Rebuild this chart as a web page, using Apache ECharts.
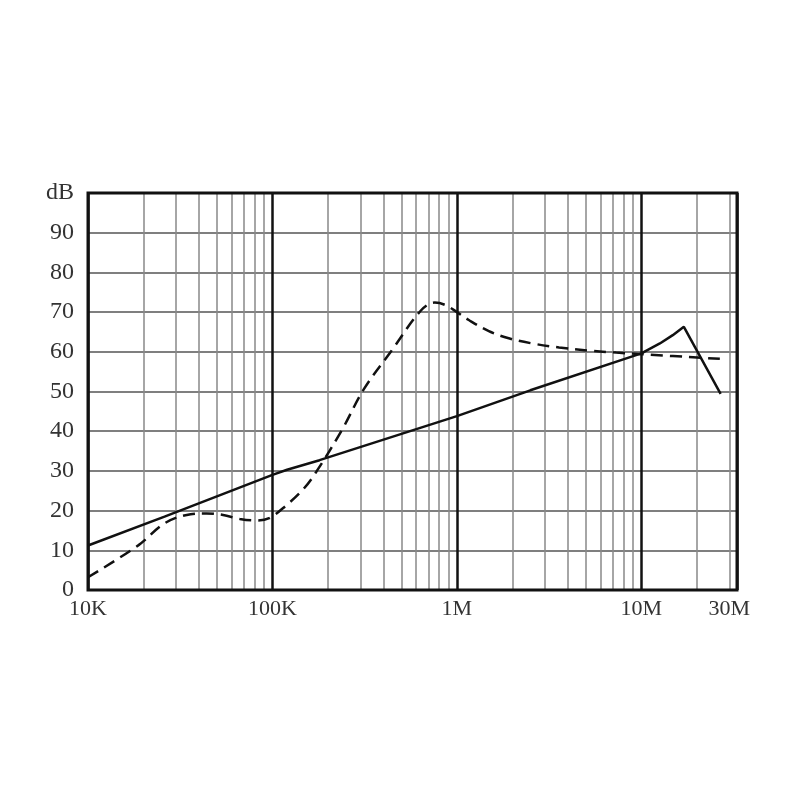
<!DOCTYPE html>
<html>
<head>
<meta charset="utf-8">
<script src="https://cdn.jsdelivr.net/npm/echarts@6/dist/echarts.min.js"></script>
<style>html,body{margin:0;padding:0;background:#fff}#c{width:800px;height:800px}</style>
</head>
<body>
<div id="c"></div>
<script>
// ---- data ----
const decadeTicks = [1e4, 1e5, 1e6, 1e7];
const decadeLabels = ['10K', '100K', '1M', '10M'];
const minorMultipliers = [2, 3, 4, 5, 6, 7, 8, 9];
const extraGridFreqs = [2e7, 3e7];
const extraLabelFreq = 3e7;
const extraLabelText = '30M';
const yTopLabel = 'dB';

const solidFreq = [1e4, 2.6e4, 1e5, 1.2e5, 1.8e5, 1e6, 2.5e6, 1e7, 1.26e7, 1.48e7, 1.7e7, 2.69e7];
const solidDb   = [11.2, 18.5, 29.0, 30.3, 32.7, 43.8, 50.3, 59.6, 62.1, 64.2, 66.3, 49.4];

const dashedFreq = [1e4, 1.88e4, 2.6e4, 3.6e4, 4.4e4, 5.4e4, 6.65e4, 8.15e4, 9.6e4, 1.18e5, 1.47e5, 1.73e5, 2.38e5, 3.13e5, 4.38e5, 6.38e5, 7.59e5, 8.64e5, 1e6, 1.16e6, 1.49e6, 1.91e6, 2.56e6, 3.58e6, 5.2e6, 7.3e6, 1e7, 2.73e7];
const dashedDb   = [3.2, 11.3, 16.8, 19.1, 19.3, 18.9, 17.9, 17.5, 18.1, 21.2, 25.4, 29.8, 40.3, 50.6, 60.0, 70.4, 72.4, 71.8, 70.0, 68.0, 65.2, 63.4, 62.1, 61.1, 60.3, 59.8, 59.4, 58.2];

// ---- build ----
const minorFreqs = [];
decadeTicks.slice(0, 3).forEach(d => minorMultipliers.forEach(m => minorFreqs.push(d * m)));
extraGridFreqs.forEach(f => minorFreqs.push(f));

const FONT = 'Liberation Serif';
const TEXT = '#333';

function zip(a, b) { return a.map((v, i) => [v, b[i]]); }

const chart = echarts.init(document.getElementById('c'));
chart.setOption({
  animation: false,
  backgroundColor: '#fff',
  grid: { left: 88, right: 63, top: 193, bottom: 210, show: true, borderColor: '#111', borderWidth: 3, backgroundColor: 'transparent', z: 10 },
  xAxis: {
    type: 'log', logBase: 10, min: 1e4, max: 3.3e7,
    axisLine: { show: false }, axisTick: { show: false },
    splitLine: { show: true, lineStyle: { color: '#111', width: 2.5 } },
    axisLabel: {
      margin: 8, fontFamily: FONT, fontSize: 22, color: TEXT,
      formatter: function (v) {
        const l = Math.log10(v);
        if (Math.abs(l - Math.round(l)) > 1e-6) return '';
        const i = decadeTicks.findIndex(d => Math.abs(Math.log10(d) - l) < 1e-6);
        return i >= 0 ? decadeLabels[i] : '';
      }
    }
  },
  yAxis: {
    type: 'value', min: 0, max: 100, interval: 10,
    axisLine: { show: false }, axisTick: { show: false },
    splitLine: { show: true, lineStyle: { color: '#555', width: 1.5 } },
    axisLabel: {
      margin: 14, fontFamily: FONT, fontSize: 24, color: TEXT,
      formatter: v => v === 100 ? yTopLabel : String(v)
    }
  },
  series: [
    {
      type: 'line', data: [], silent: true,
      markLine: {
        silent: true, symbol: 'none', animation: false,
        lineStyle: { color: '#888', width: 1.5, type: 'solid' },
        label: { show: false },
        data: minorFreqs.map(f => ({ xAxis: f }))
      }
    },
    {
      type: 'line', data: [], silent: true,
      markLine: {
        silent: true, symbol: 'none', animation: false,
        lineStyle: { color: 'rgba(0,0,0,0)', width: 0 },
        label: { show: true, position: 'start', distance: 8, formatter: extraLabelText, fontFamily: FONT, fontSize: 22, color: TEXT },
        data: [{ xAxis: extraLabelFreq }]
      }
    },
    {
      name: 'solid', type: 'line', data: zip(solidFreq, solidDb),
      showSymbol: false, smooth: false, z: 20,
      lineStyle: { color: '#111', width: 2.5 }
    },
    {
      name: 'dashed', type: 'line', data: zip(dashedFreq, dashedDb),
      showSymbol: false, smooth: 0.35, z: 20,
      lineStyle: { color: '#111', width: 2.5, type: [12, 7] }
    }
  ]
});
</script>
</body>
</html>
